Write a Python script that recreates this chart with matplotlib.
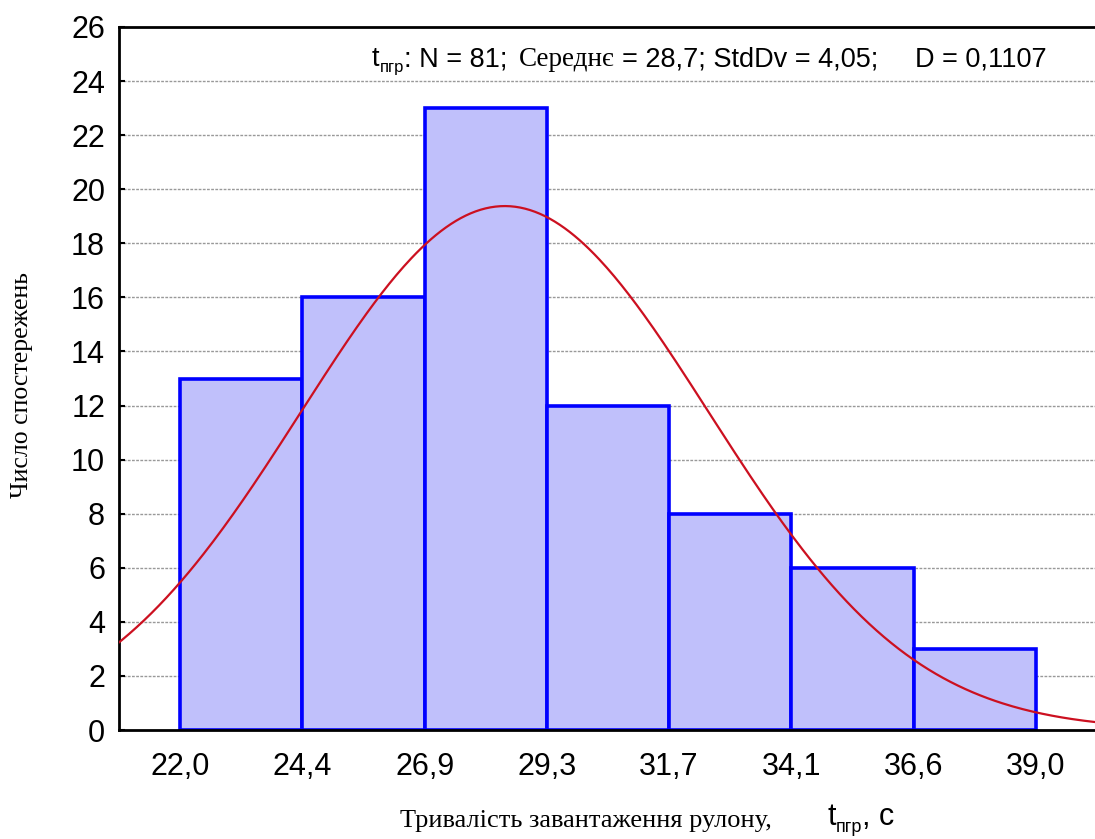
"""Histogram of roll loading duration with fitted normal curve."""

import numpy as np
import matplotlib
matplotlib.use("Agg")
import matplotlib.pyplot as plt

# data
bin_edges = [22.0, 24.43, 26.86, 29.29, 31.71, 34.14, 36.57, 39.0]
counts = [13, 16, 23, 12, 8, 6, 3]
tick_labels = ["22,0", "24,4", "26,9", "29,3", "31,7", "34,1", "36,6", "39,0"]
n_obs = 81
curve_mean = 28.45
curve_std = 4.05

SANS = "Liberation Sans"
SERIF = "Liberation Serif"

fig = plt.figure(figsize=(10.95, 8.39), dpi=100)
ax = fig.add_axes([119 / 1095, 1 - 730 / 839, 1 - 119 / 1095, (730 - 27) / 839])

widths = np.diff(bin_edges)
ax.bar(bin_edges[:-1], counts, width=widths, align="edge",
       color="#c0c0fb", edgecolor="#0000ff", linewidth=2.6, zorder=2)

# normal curve scaled to counts
xs = np.linspace(20.7, 40.3, 400)
bw = (bin_edges[-1] - bin_edges[0]) / len(counts)
ys = n_obs * bw * np.exp(-0.5 * ((xs - curve_mean) / curve_std) ** 2) / (curve_std * np.sqrt(2 * np.pi))
ax.plot(xs, ys, color="#cc1020", linewidth=1.6, zorder=3)

ax.set_xlim(20.79, 40.17)
ax.set_ylim(0, 26)
ax.set_yticks(range(0, 27, 2))
ax.set_xticks(bin_edges)
ax.set_xticklabels(tick_labels)
for lab in ax.get_xticklabels() + ax.get_yticklabels():
    lab.set_fontfamily(SANS)
    lab.set_fontsize(22)
ax.tick_params(axis="x", length=0, pad=16)
ax.tick_params(axis="y", direction="in", length=4, width=1.5, pad=10)

for y in range(2, 26, 2):
    ax.axhline(y, color="#999999", linewidth=1.0, linestyle=(0, (2, 1)), zorder=1)

for side in ["left", "top", "bottom"]:
    ax.spines[side].set_linewidth(2)
ax.spines["right"].set_visible(False)


def chain(first_xy, pieces):
    """Draw text pieces one after another, starting at a figure position."""
    prev = None
    for text, size, family, gap, dy in pieces:
        if prev is None:
            prev = fig.text(first_xy[0], first_xy[1], text, fontsize=size,
                            family=family, va="bottom", ha="left")
        else:
            prev = ax.annotate(text, xy=(1, 0), xycoords=prev,
                               xytext=(gap, dy), textcoords="offset points",
                               fontsize=size, family=family, va="bottom", ha="left",
                               annotation_clip=False)
    return prev


# stats line at top
chain((372 / 1095, 1 - 72 / 839), [
    ("t", 19.5, SANS, 0, 0),
    ("пгр", 12, SANS, 0, -2),
    (": N = 81;", 19.5, SANS, 0, 2),
    ("Середнє", 19.5, SERIF, 8, 0),
    ("= 28,7; StdDv = 4,05;", 19.5, SANS, 6, 0),
    ("D = 0,1107", 19.5, SANS, 26, 0),
])

# x label
chain((400 / 1095, 1 - 832 / 839), [
    ("Тривалість завантаження рулону,", 19, SERIF, 0, 0),
    ("t", 22, SANS, 40, 0),
    ("пгр", 13, SANS, 0, -3),
    (", с", 22, SANS, 0, 3),
])

# y label
fig.text(22 / 1095, 1 - 385 / 839, "Число спостережень", rotation=90,
         fontsize=18.5, family=SERIF, va="center", ha="center")

fig.savefig("out.png", dpi=100)
